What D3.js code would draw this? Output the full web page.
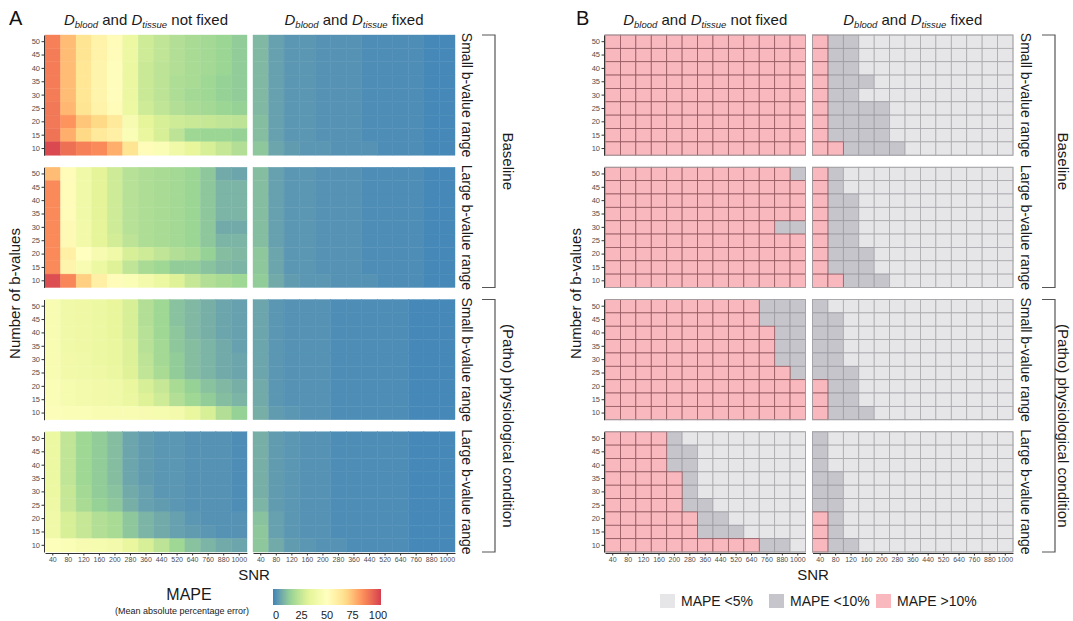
<!DOCTYPE html>
<html>
<head>
<meta charset="utf-8">
<script src="https://cdn.jsdelivr.net/npm/d3@7"></script>
<style>
body{margin:0;background:#fff;}
svg text{font-family:"Liberation Sans",Arial,Helvetica,sans-serif;}
</style>
</head>
<body>
<div id="chart"></div>
<script>
// axes
var snr = [40, 80, 120, 160, 200, 280, 360, 440, 520, 640, 760, 880, 1000]
var bCounts = [50, 45, 40, 35, 30, 25, 20, 15, 10]   // top to bottom
var rowNames = ["Small b-value range", "Large b-value range", "Small b-value range", "Large b-value range"]
var groupNames = ["Baseline", "(Patho) physiological condition"]
var colNames = ["not fixed", "fixed"]
var mapeTicks = [0, 25, 50, 75, 100]

// panel A : MAPE (%) per cell, rows = bCounts, cols = snr
var mapeBaseSmallFree = [
  [86,74,64,57,52,38,28,25,22,20,19,17,15],
  [87,74,64,57,52,38,28,25,22,20,19,17,15],
  [87,74,63,56,51,37,27,24,22,20,19,17,15],
  [87,74,63,56,51,37,27,24,21,20,18,16,15],
  [87,74,63,56,51,37,27,24,21,19,18,16,15],
  [88,75,64,57,52,38,28,25,22,20,19,17,16],
  [88,82,72,68,62,44,34,30,28,27,26,25,24],
  [89,77,68,62,58,46,36,30,24,18,17,17,16],
  [98,90,86,84,77,64,52,46,40,35,30,26,22]]
var mapeBaseSmallFixed = [
  [11,6,4,4,3,3,3,2,2,2,2,1,1],
  [11,6,4,4,3,3,3,2,2,2,2,1,1],
  [11,6,4,4,3,3,3,2,2,2,2,1,1],
  [11,6,4,4,3,3,3,2,2,2,2,1,1],
  [11,6,4,4,3,3,3,2,2,2,2,1,1],
  [11,6,4,4,3,3,3,2,2,2,2,1,1],
  [12,6,4,4,3,3,3,2,2,2,2,1,1],
  [12,6,4,4,3,3,3,2,2,2,2,1,1],
  [14,7,5,4,4,3,3,3,2,2,2,1,1]]
var mapeBaseLargeFree = [
  [74,52,40,33,28,23,21,20,19,17,14,8,7],
  [84,52,40,33,28,23,21,20,19,17,14,10,10],
  [84,52,40,33,28,23,21,20,19,17,14,10,10],
  [84,52,40,33,28,23,21,20,19,17,14,10,10],
  [84,53,41,34,28,23,21,20,19,17,14,8,8],
  [84,53,41,34,29,24,21,20,19,17,14,10,10],
  [84,58,50,44,40,30,28,25,22,20,16,12,11],
  [84,56,45,38,32,25,20,18,15,15,13,11,10],
  [97,85,70,58,52,46,42,38,32,26,22,20,18]]
var mapeBaseLargeFixed = [
  [12,6,4,4,3,3,3,2,2,2,2,1,1],
  [12,6,4,4,3,3,3,2,2,2,2,1,1],
  [12,6,4,4,3,3,3,2,2,2,2,1,1],
  [12,6,4,4,3,3,3,2,2,2,2,1,1],
  [12,6,4,4,3,3,3,2,2,2,2,1,1],
  [12,6,4,4,3,3,3,2,2,2,2,1,1],
  [14,7,4,4,3,3,3,2,2,2,2,1,1],
  [14,7,4,4,3,3,3,2,2,2,2,1,1],
  [15,8,5,4,4,3,3,3,2,2,2,1,1]]
var mapePathoSmallFree = [
  [45,40,39,38,35,30,22,18,13,11,9,7,6],
  [45,40,39,38,35,30,22,18,13,11,9,7,6],
  [45,40,39,38,35,30,23,18,14,11,9,7,6],
  [45,40,39,38,36,31,23,19,14,12,10,8,6],
  [45,41,40,38,36,31,24,19,15,12,10,8,7],
  [45,41,40,39,37,32,25,20,15,12,10,8,7],
  [46,43,42,41,40,36,30,26,20,16,13,11,9],
  [46,43,42,41,40,37,32,28,22,18,15,12,10],
  [47,46,46,45,45,45,44,43,42,36,30,22,16]]
var mapePathoSmallFixed = [
  [7,4,3,3,3,2,2,2,2,2,1,1,1],
  [7,4,3,3,3,2,2,2,2,2,1,1,1],
  [7,4,3,3,3,2,2,2,2,2,1,1,1],
  [7,4,3,3,3,2,2,2,2,2,1,1,1],
  [7,4,3,3,3,2,2,2,2,2,1,1,1],
  [7,4,3,3,3,2,2,2,2,2,1,1,1],
  [8,4,3,3,3,2,2,2,2,2,1,1,1],
  [8,4,3,3,3,2,2,2,2,2,1,1,1],
  [9,5,4,3,3,2,2,2,2,2,1,1,1]]
var mapePathoLargeFree = [
  [38,25,18,15,12,7,5,4,4,3,3,3,2],
  [38,25,18,15,12,7,5,4,4,3,3,3,2],
  [38,25,18,15,12,7,5,4,4,3,3,3,2],
  [38,25,18,15,12,7,5,4,4,3,3,3,2],
  [38,26,19,15,13,8,6,4,4,3,3,3,2],
  [39,26,20,16,14,9,6,5,4,3,3,3,2],
  [40,30,26,22,20,14,10,8,6,4,3,3,3],
  [40,30,26,22,20,14,10,8,6,5,4,3,3],
  [48,46,44,43,42,36,30,24,18,13,10,8,7]]
var mapePathoLargeFixed = [
  [9,5,4,3,3,2,2,2,2,2,1,1,1],
  [9,5,4,3,3,2,2,2,2,2,1,1,1],
  [9,5,4,3,3,2,2,2,2,2,1,1,1],
  [9,5,4,3,3,2,2,2,2,2,1,1,1],
  [9,5,4,3,3,2,2,2,2,2,1,1,1],
  [10,5,4,3,3,2,2,2,2,2,1,1,1],
  [13,6,4,3,3,2,2,2,2,2,1,1,1],
  [14,6,4,3,3,2,2,2,2,2,1,1,1],
  [14,8,5,4,3,3,2,2,2,2,1,1,1]]

// panel B : category per cell  P = MAPE >10%, D = MAPE <10%, L = MAPE <5%
var catBaseSmallFree = ["PPPPPPPPPPPPP","PPPPPPPPPPPPP","PPPPPPPPPPPPP","PPPPPPPPPPPPP","PPPPPPPPPPPPP",
  "PPPPPPPPPPPPP","PPPPPPPPPPPPP","PPPPPPPPPPPPP","PPPPPPPPPPPPP"]
var catBaseSmallFixed = ["PDDLLLLLLLLLL","PDDLLLLLLLLLL","PDDLLLLLLLLLL","PDDDLLLLLLLLL","PDDLLLLLLLLLL",
  "PDDDDLLLLLLLL","PDDDDLLLLLLLL","PDDDDLLLLLLLL","PPDDDDLLLLLLL"]
var catBaseLargeFree = ["PPPPPPPPPPPPD","PPPPPPPPPPPPP","PPPPPPPPPPPPP","PPPPPPPPPPPPP","PPPPPPPPPPPDD",
  "PPPPPPPPPPPPP","PPPPPPPPPPPPP","PPPPPPPPPPPPP","PPPPPPPPPPPPP"]
var catBaseLargeFixed = ["PDLLLLLLLLLLL","PDLLLLLLLLLLL","PDDLLLLLLLLLL","PDDLLLLLLLLLL","PDDLLLLLLLLLL",
  "PDDLLLLLLLLLL","PDDDLLLLLLLLL","PDDDLLLLLLLLL","PPDDDLLLLLLLL"]
var catPathoSmallFree = ["PPPPPPPPPPDDD","PPPPPPPPPPDDD","PPPPPPPPPPPDD","PPPPPPPPPPPDD","PPPPPPPPPPPDD",
  "PPPPPPPPPPPPD","PPPPPPPPPPPPP","PPPPPPPPPPPPP","PPPPPPPPPPPPP"]
var catPathoSmallFixed = ["DLLLLLLLLLLLL","DDLLLLLLLLLLL","DDLLLLLLLLLLL","DDLLLLLLLLLLL","DDLLLLLLLLLLL",
  "DDDLLLLLLLLLL","PDDLLLLLLLLLL","PDDLLLLLLLLLL","PDDDLLLLLLLLL"]
var catPathoLargeFree = ["PPPPDLLLLLLLL","PPPPDDLLLLLLL","PPPPDDLLLLLLL","PPPPPDLLLLLLL","PPPPPDLLLLLLL",
  "PPPPPDDLLLLLL","PPPPPPDDLLLLL","PPPPPPDDDLLLL","PPPPPPPPPPDDL"]
var catPathoLargeFixed = ["DLLLLLLLLLLLL","DLLLLLLLLLLLL","DLLLLLLLLLLLL","DDLLLLLLLLLLL","DDLLLLLLLLLLL",
  "DDLLLLLLLLLLL","PDLLLLLLLLLLL","PDLLLLLLLLLLL","PDDLLLLLLLLLL"]
var catCodes = ["L", "D", "P"]
var catLabels = ["MAPE <5%", "MAPE <10%", "MAPE >10%"]

var heatData = [[mapeBaseSmallFree, mapeBaseSmallFixed], [mapeBaseLargeFree, mapeBaseLargeFixed],
  [mapePathoSmallFree, mapePathoSmallFixed], [mapePathoLargeFree, mapePathoLargeFixed]]
var catData = [[catBaseSmallFree, catBaseSmallFixed], [catBaseLargeFree, catBaseLargeFixed],
  [catPathoSmallFree, catPathoSmallFixed], [catPathoLargeFree, catPathoLargeFixed]]

// reversed Spectral (distiller style, 7 colours)
var color = d3.scaleLinear()
    .domain([0, 16.67, 33.33, 50, 66.67, 83.33, 100])
    .range(["#3d84ba", "#99d594", "#e6f598", "#ffffbf", "#fee08b", "#fc8d59", "#d53e4f"])
    .interpolate(d3.interpolateLab)
var catFill = d3.scaleOrdinal().domain(catCodes).range(["#e6e6e8", "#c6c5cb", "#f8b8be"])
var catStroke = d3.scaleOrdinal().domain(catCodes).range(["#a9a9ad", "#9c9ba2", "#93585e"])

var svg = d3.select("#chart").append("svg")
    .attr("width", 1073)
    .attr("height", 621)

var rowBand = d3.scaleBand().domain([0, 1, 2, 3]).range([35, 552]).paddingInner(0.091)

function colTitle(g, x, y, txt){
    var t = g.append("text").attr("x", x).attr("y", y)
        .attr("text-anchor", "middle").attr("font-size", 15).attr("fill", "#1a1a1a")
    t.append("tspan").attr("font-style", "italic").text("D")
    t.append("tspan").attr("font-style", "italic").attr("font-size", 9.5).attr("dy", 3).text("blood")
    t.append("tspan").attr("dy", -3).text(" and ")
    t.append("tspan").attr("font-style", "italic").text("D")
    t.append("tspan").attr("font-style", "italic").attr("font-size", 9.5).attr("dy", 3).text("tissue")
    t.append("tspan").attr("dy", -3).text(" " + txt)
}

function styleAxis(ax, fs){
    ax.select(".domain").attr("stroke", "#333")
    ax.selectAll(".tick line").attr("stroke", "#333")
    ax.selectAll(".tick text").attr("fill", "#4d4d4d").attr("font-size", fs)
        .style("font-family", "'Liberation Sans',Arial,sans-serif")
}

function drawPanel(p){
    var g = svg.append("g")
    var colBand = d3.scaleBand().domain([0, 1]).range([p.left, p.right])
        .paddingInner(p.gap / ((p.right - p.left + p.gap) / 2))
    var w = colBand.bandwidth(), h = rowBand.bandwidth()
    var x = d3.scaleBand().domain(snr).range([0, w])
    var y = d3.scaleBand().domain(bCounts).range([0, h])

    g.append("text").attr("x", p.labelX).attr("y", 25).attr("font-size", 20).attr("fill", "#111").text(p.label)

    colNames.forEach(function(c, ci){
        colTitle(g, colBand(ci) + w / 2, 25, c)
    })

    for (var r = 0; r < 4; r++){
        for (var c = 0; c < 2; c++){
            var fg = g.append("g").attr("transform", "translate(" + colBand(c) + "," + rowBand(r) + ")")
            var m = p.data[r][c]
            var cells = []
            bCounts.forEach(function(b, i){
                snr.forEach(function(s, j){
                    var v = p.kind == "heat" ? m[i][j] : m[i].charAt(j)
                    cells.push({b: b, s: s, v: v})
                })
            })
            if (p.kind == "heat"){
                fg.selectAll("rect").data(cells).enter().append("rect")
                    .attr("x", function(d){ return x(d.s) })
                    .attr("y", function(d){ return y(d.b) })
                    .attr("width", x.bandwidth())
                    .attr("height", y.bandwidth())
                    .attr("fill", function(d){ return color(d.v) })
                    .attr("stroke", function(d){ return color(d.v) })
                    .attr("stroke-width", 0.4)
            } else {
                fg.selectAll("rect").data(cells).enter().append("rect")
                    .attr("x", function(d){ return x(d.s) })
                    .attr("y", function(d){ return y(d.b) })
                    .attr("width", x.bandwidth())
                    .attr("height", y.bandwidth())
                    .attr("fill", function(d){ return catFill(d.v) })
                    .attr("stroke", function(d){ return catStroke(d.v) })
                    .attr("stroke-width", 0.8)
                // pink borders on top so they read darker
                fg.selectAll("rect").filter(function(d){ return d.v == "P" }).raise()
                fg.append("rect").attr("width", w).attr("height", h)
                    .attr("fill", "none").attr("stroke", "#a5a5a8").attr("stroke-width", 0.8)
            }
            if (c == 0){
                var ay = fg.append("g").attr("transform", "translate(-1,0)")
                    .call(d3.axisLeft(y).tickSize(2.5).tickPadding(1.5).tickSizeOuter(0))
                styleAxis(ay, 7.5)
            }
            if (r == 3){
                var ax = fg.append("g").attr("transform", "translate(0," + (h + 1) + ")")
                    .call(d3.axisBottom(x).tickSize(2.5).tickPadding(1.5).tickSizeOuter(0))
                styleAxis(ax, 7)
            }
        }
        // strip labels on the right
        g.append("text")
            .attr("transform", "translate(" + p.stripX + "," + (rowBand(r) + h / 2) + ") rotate(90)")
            .attr("text-anchor", "middle").attr("dominant-baseline", "central")
            .attr("font-size", 14).attr("fill", "#1a1a1a")
            .text(rowNames[r])
    }

    // outer group brackets
    groupNames.forEach(function(name, gi){
        var y0 = rowBand(gi * 2), y1 = rowBand(gi * 2 + 1) + h
        g.append("path")
            .attr("d", "M" + (p.bracketX - 13) + "," + y0 + "H" + p.bracketX + "V" + y1 + "H" + (p.bracketX - 13))
            .attr("fill", "none").attr("stroke", "#555").attr("stroke-width", 1.2)
        g.append("text")
            .attr("transform", "translate(" + p.outerX + "," + ((y0 + y1) / 2) + ") rotate(90)")
            .attr("text-anchor", "middle").attr("dominant-baseline", "central")
            .attr("font-size", 15).attr("fill", "#1a1a1a")
            .text(name)
    })

    g.append("text")
        .attr("transform", "translate(" + p.ylabX + "," + ((rowBand(0) + rowBand(3) + h) / 2) + ") rotate(-90)")
        .attr("text-anchor", "middle").attr("dominant-baseline", "central")
        .attr("font-size", 15).attr("fill", "#1a1a1a")
        .text("Number of b-values")

    g.append("text").attr("x", (p.left + p.right) / 2 + 4).attr("y", 580)
        .attr("text-anchor", "middle").attr("font-size", 15).attr("fill", "#1a1a1a")
        .text("SNR")
}

drawPanel({kind: "heat", data: heatData, left: 45, right: 455, gap: 6, label: "A", labelX: 9,
    stripX: 467, bracketX: 495, outerX: 508, ylabX: 14})
drawPanel({kind: "cat", data: catData, left: 605, right: 1013, gap: 7, label: "B", labelX: 576,
    stripX: 1026, bracketX: 1055, outerX: 1063, ylabX: 575})

// colour bar legend (panel A)
var leg = svg.append("g")
leg.append("text").attr("x", 189).attr("y", 600).attr("text-anchor", "middle")
    .attr("font-size", 16).attr("fill", "#1a1a1a").text("MAPE")
leg.append("text").attr("x", 182).attr("y", 614).attr("text-anchor", "middle")
    .attr("font-size", 9).attr("fill", "#1a1a1a").text("(Mean absolute percentage error)")
var grad = svg.append("defs").append("linearGradient").attr("id", "mapeGrad")
grad.selectAll("stop").data(d3.range(0, 101, 5)).enter().append("stop")
    .attr("offset", function(d){ return d + "%" })
    .attr("stop-color", function(d){ return color(d) })
var barScale = d3.scaleLinear().domain([0, 100]).range([276, 378])
leg.append("rect").attr("x", 273).attr("y", 589).attr("width", 108).attr("height", 16)
    .attr("fill", "url(#mapeGrad)")
leg.selectAll(".cbt").data(mapeTicks).enter().append("text").attr("class", "cbt")
    .attr("x", function(d){ return barScale(d) }).attr("y", 619)
    .attr("text-anchor", "middle").attr("font-size", 11).attr("fill", "#1a1a1a")
    .text(function(d){ return d })

// category legend (panel B)
var legB = svg.append("g")
var legX = [660, 769, 876]
catCodes.forEach(function(code, i){
    legB.append("rect").attr("x", legX[i]).attr("y", 594).attr("width", 15).attr("height", 14)
        .attr("fill", catFill(code))
    legB.append("text").attr("x", legX[i] + 21).attr("y", 606)
        .attr("font-size", 14).attr("fill", "#1a1a1a").text(catLabels[i])
})
</script>
</body>
</html>
